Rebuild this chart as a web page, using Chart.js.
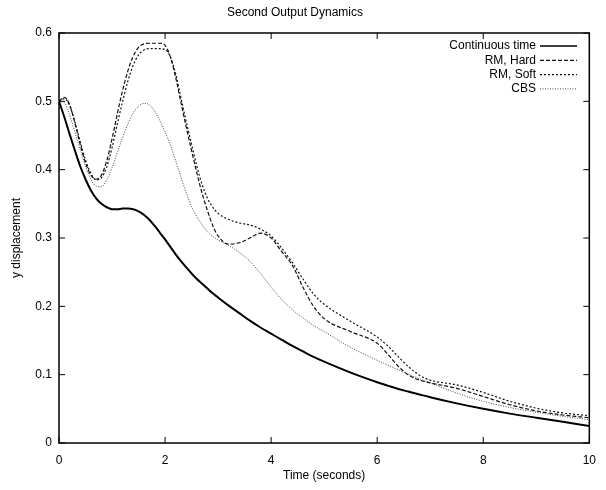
<!DOCTYPE html>
<html>
<head>
<meta charset="utf-8">
<script src="https://cdn.jsdelivr.net/npm/chart.js@4.4.0/dist/chart.umd.min.js"></script>
<style>
  html, body { margin: 0; padding: 0; background: #fff; }
  #wrap { width: 606px; height: 490px; }
</style>
</head>
<body>
<div id="wrap"><canvas id="myChart"></canvas></div>
<script>
const times = [0, 0.1, 0.2, 0.3, 0.4, 0.5, 0.6, 0.7, 0.8, 0.9,
  1.0, 1.1, 1.2, 1.3, 1.4, 1.5, 1.6, 1.7, 1.8, 1.9,
  2.0, 2.1, 2.2, 2.3, 2.4, 2.5, 2.6, 2.7, 2.8, 2.9,
  3.0, 3.2, 3.4, 3.6, 3.8, 4.0, 4.2, 4.4, 4.6, 4.8,
  5.0, 5.5, 6.0, 6.2, 6.4, 6.6, 6.8, 7.0, 7.5, 8.0,
  8.5, 9.0, 9.5, 10.0];

const contTime = [0.500, 0.477, 0.452, 0.428, 0.405, 0.386, 0.370, 0.358, 0.350, 0.345,
  0.342, 0.342, 0.343, 0.343, 0.342, 0.339, 0.334, 0.327, 0.318, 0.308,
  0.298, 0.287, 0.276, 0.266, 0.257, 0.248, 0.240, 0.233, 0.226, 0.219,
  0.213, 0.201, 0.190, 0.179, 0.169, 0.160, 0.151, 0.142, 0.134, 0.126,
  0.119, 0.103, 0.089, 0.084, 0.079, 0.075, 0.071, 0.067, 0.058, 0.050,
  0.043, 0.037, 0.031, 0.025];

const rmHard = [0.500, 0.506, 0.495, 0.468, 0.437, 0.410, 0.392, 0.386, 0.392, 0.413,
  0.445, 0.482, 0.516, 0.545, 0.566, 0.579, 0.584, 0.585, 0.585, 0.585,
  0.582, 0.565, 0.535, 0.498, 0.462, 0.428, 0.395, 0.365, 0.340, 0.318,
  0.303, 0.291, 0.293, 0.300, 0.307, 0.300, 0.280, 0.260, 0.228, 0.200,
  0.182, 0.163, 0.146, 0.130, 0.112, 0.099, 0.092, 0.088, 0.080, 0.068,
  0.056, 0.047, 0.041, 0.037];

const rmSoft = [0.500, 0.504, 0.494, 0.470, 0.441, 0.414, 0.395, 0.385, 0.388, 0.404,
  0.432, 0.467, 0.500, 0.530, 0.553, 0.568, 0.575, 0.577, 0.577, 0.577,
  0.576, 0.565, 0.540, 0.505, 0.470, 0.437, 0.405, 0.378, 0.358, 0.345,
  0.336, 0.327, 0.322, 0.319, 0.313, 0.303, 0.285, 0.264, 0.240, 0.218,
  0.203, 0.178, 0.155, 0.142, 0.126, 0.111, 0.099, 0.092, 0.085, 0.074,
  0.061, 0.051, 0.044, 0.040];

const cbs = [0.500, 0.498, 0.480, 0.455, 0.430, 0.405, 0.386, 0.376, 0.375, 0.385,
  0.403, 0.425, 0.447, 0.467, 0.483, 0.493, 0.497, 0.495, 0.486, 0.472,
  0.455, 0.436, 0.413, 0.389, 0.366, 0.346, 0.331, 0.319, 0.309, 0.302,
  0.297, 0.289, 0.279, 0.266, 0.248, 0.228, 0.210, 0.195, 0.183, 0.172,
  0.163, 0.140, 0.121, 0.114, 0.107, 0.100, 0.094, 0.088, 0.073, 0.061,
  0.052, 0.045, 0.039, 0.034];

const seriesNames = ["Continuous time", "RM, Hard", "RM, Soft", "CBS"];
const xTicks = [0, 2, 4, 6, 8, 10];
const yTicks = [0, 0.1, 0.2, 0.3, 0.4, 0.5, 0.6];

function pts(ys) {
  return times.map((t, i) => ({ x: t, y: ys[i] }));
}

const FONT = "'Liberation Sans', Arial, sans-serif";

// gnuplot style frame, inward ticks and legend
const framePlugin = {
  id: 'frame',
  afterDatasetsDraw(chart) {
    const { ctx, chartArea: a, scales } = chart;
    ctx.save();
    ctx.strokeStyle = '#000';
    ctx.lineWidth = 1;
    ctx.beginPath();
    xTicks.forEach(v => {
      const px = scales.x.getPixelForValue(v);
      ctx.moveTo(px, a.bottom); ctx.lineTo(px, a.bottom - 6);
      ctx.moveTo(px, a.top); ctx.lineTo(px, a.top + 6);
    });
    yTicks.forEach(v => {
      const py = scales.y.getPixelForValue(v);
      ctx.moveTo(a.left, py); ctx.lineTo(a.left + 6, py);
      ctx.moveTo(a.right, py); ctx.lineTo(a.right - 6, py);
    });
    ctx.stroke();
    ctx.lineWidth = 1.5;
    ctx.strokeRect(a.left, a.top, a.right - a.left, a.bottom - a.top);

    // legend
    ctx.font = '12px ' + FONT;
    ctx.textAlign = 'right';
    ctx.textBaseline = 'middle';
    chart.data.datasets.forEach((ds, i) => {
      const y = 46 + i * 14.3;
      ctx.fillStyle = '#000';
      ctx.fillText(ds.label, 536, y);
      ctx.strokeStyle = ds.borderColor;
      ctx.lineWidth = Math.min(ds.borderWidth, 1.5);
      ctx.setLineDash(ds.borderDash || []);
      ctx.beginPath();
      ctx.moveTo(540, y);
      ctx.lineTo(577, y);
      ctx.stroke();
      ctx.setLineDash([]);
    });
    ctx.restore();
  }
};

new Chart("myChart", {
  type: "line",
  data: {
    datasets: [
      { label: seriesNames[0], data: pts(contTime), borderColor: '#000', borderWidth: 2 },
      { label: seriesNames[1], data: pts(rmHard), borderColor: '#111', borderWidth: 1.2, borderDash: [4, 2] },
      { label: seriesNames[2], data: pts(rmSoft), borderColor: '#111', borderWidth: 1.2, borderDash: [2, 2] },
      { label: seriesNames[3], data: pts(cbs), borderColor: '#444', borderWidth: 1, borderDash: [1, 1.5] }
    ]
  },
  options: {
    responsive: true,
    maintainAspectRatio: false,
    animation: false,
    layout: { padding: { left: 0, right: 16, top: 0, bottom: 0 } },
    elements: {
      point: { radius: 0 },
      line: { cubicInterpolationMode: 'monotone', fill: false }
    },
    plugins: {
      legend: { display: false },
      tooltip: { enabled: false },
      title: {
        display: true,
        text: "Second Output Dynamics",
        color: '#000',
        font: { family: FONT, size: 12, weight: 'normal' },
        padding: { top: 5, bottom: 13.6 }
      }
    },
    scales: {
      x: {
        type: 'linear',
        min: 0, max: 10,
        afterBuildTicks: s => { s.ticks = xTicks.map(v => ({ value: v })); },
        afterFit: s => { s.height = 47; },
        grid: { display: false, drawTicks: false },
        border: { display: false },
        ticks: { color: '#000', padding: 10, maxRotation: 0, font: { family: FONT, size: 12 } },
        title: {
          display: true, text: 'Time (seconds)', color: '#000',
          font: { family: FONT, size: 12 }, padding: { top: 0, bottom: 7 }
        }
      },
      y: {
        min: 0, max: 0.6,
        afterBuildTicks: s => { s.ticks = yTicks.map(v => ({ value: v })); },
        afterFit: s => { s.width = 59; },
        grid: { display: false, drawTicks: false },
        border: { display: false },
        ticks: { color: '#000', padding: 7, font: { family: FONT, size: 12 } },
        title: {
          display: true, text: 'y displacement', color: '#000',
          font: { family: FONT, size: 12 }, padding: { top: 9, bottom: 0 }
        }
      }
    }
  },
  plugins: [framePlugin]
});
</script>
</body>
</html>
